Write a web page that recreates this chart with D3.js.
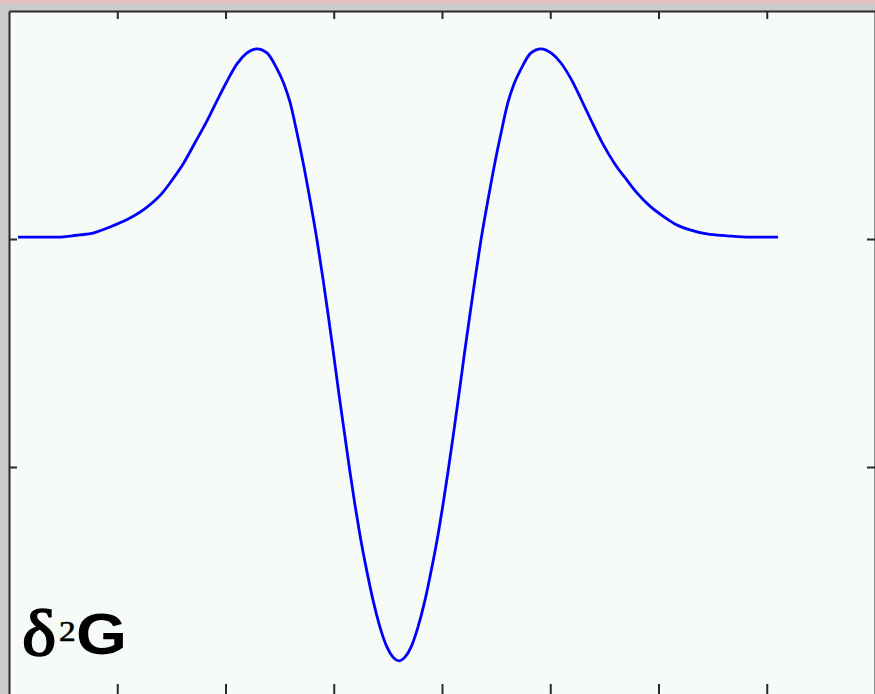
<!DOCTYPE html>
<html>
<head>
<meta charset="utf-8">
<script src="https://cdn.jsdelivr.net/npm/d3@7"></script>
<style>
  html, body { margin: 0; padding: 0; background: #c9ccc8; }
  svg { display: block; }
</style>
</head>
<body>
<svg id="chart" width="875" height="694"></svg>
<script>
// ---- data ----
const xValues = [0.083,0.286,0.471,0.582,0.656,0.776,0.841,0.961,1.118,1.275,1.423,1.515,1.607,1.718,1.829,1.921,2.014,2.106,2.199,2.291,2.383,2.476,2.540,2.596,2.661,2.716,2.781,2.845,2.901,2.947,2.993,3.048,3.104,3.150,3.196,3.242,3.307,3.363,3.427,3.492,3.547,3.603,3.658,3.714,3.778,3.843,3.898,3.963,4.009,4.055,4.102,4.157,4.212,4.259,4.305,4.360,4.425,4.490,4.545,4.610,4.665,4.730,4.822,4.915,5.007,5.099,5.192,5.284,5.376,5.487,5.598,5.709,5.801,5.921,6.042,6.152,6.291,6.448,6.633,6.845,7.104];
const yValues = [0.004,0.004,0.004,0.007,0.009,0.013,0.018,0.029,0.046,0.070,0.103,0.132,0.164,0.211,0.259,0.303,0.346,0.384,0.408,0.417,0.408,0.373,0.340,0.300,0.232,0.169,0.086,-0.002,-0.088,-0.164,-0.243,-0.340,-0.434,-0.511,-0.583,-0.649,-0.730,-0.792,-0.851,-0.895,-0.917,-0.925,-0.917,-0.895,-0.851,-0.792,-0.730,-0.649,-0.583,-0.511,-0.434,-0.340,-0.243,-0.164,-0.088,-0.002,0.086,0.169,0.232,0.300,0.340,0.373,0.408,0.417,0.408,0.386,0.351,0.307,0.261,0.208,0.164,0.129,0.101,0.072,0.050,0.033,0.020,0.011,0.007,0.004,0.004];
const xTicks = [1,2,3,4,5,6,7];
const yTicks = [0,-0.5];
const labelParts = ["δ","2","G"];

// ---- layout ----
const svg = d3.select("#chart");
const W = 875, H = 694;
const mLeft = 9, mRight = 875, mTop = 11, mBottom = 695;

const x = d3.scaleLinear().domain([0, 8]).range([mLeft, mRight]);
const y = d3.scaleLinear().domain([-1, 0.5]).range([mBottom, mTop]);

// frame background
svg.append("rect").attr("x",0).attr("y",0).attr("width",W).attr("height",H).attr("fill","#c9ccc8");
svg.append("rect").attr("x",0).attr("y",0).attr("width",W).attr("height",4).attr("fill","#e6c1c3");
svg.append("rect").attr("x",mLeft).attr("y",mTop).attr("width",mRight-mLeft).attr("height",mBottom-mTop).attr("fill","#f6fbf8");

// curve
const pts = xValues.map((v,i)=>[v, yValues[i]]);
const line = d3.line().x(d=>x(d[0])).y(d=>y(d[1])).curve(d3.curveMonotoneX);
svg.append("path").datum(pts).attr("d", line)
  .attr("fill","none").attr("stroke","#0000ff").attr("stroke-width",2.8)
  .attr("stroke-linejoin","round");

// axes (ticks inward, no labels)
function styleAxis(g){
  g.selectAll("text").remove();
  g.selectAll("line").attr("stroke","#2a2a2a").attr("stroke-width",2);
  g.select(".domain").attr("stroke","#2a2a2a").attr("stroke-width",2);
}
svg.append("g").attr("transform",`translate(0,${mTop})`)
  .call(d3.axisBottom(x).tickValues(xTicks).tickSize(8).tickSizeOuter(0)).call(styleAxis);
svg.append("g").attr("transform",`translate(0,${mBottom})`)
  .call(d3.axisTop(x).tickValues(xTicks).tickSize(11).tickSizeOuter(0)).call(styleAxis);
svg.append("g").attr("transform",`translate(${mLeft},0)`)
  .call(d3.axisRight(y).tickValues(yTicks).tickSize(8).tickSizeOuter(0)).call(styleAxis);
svg.append("g").attr("transform",`translate(${mRight},0)`)
  .call(d3.axisLeft(y).tickValues(yTicks).tickSize(8).tickSizeOuter(0)).call(styleAxis);

// label  δ²G
svg.append("text").attr("transform","translate(22,655) scale(1.12,1)")
  .attr("fill","#000").attr("stroke","#000").attr("stroke-width",1.6)
  .style("font-family","'Liberation Serif', 'DejaVu Serif', serif")
  .style("font-size","65px")
  .text(labelParts[0]);
svg.append("text").attr("transform","translate(59,641) scale(1.15,1)")
  .attr("fill","#000").attr("stroke","#000").attr("stroke-width",0.6)
  .style("font-family","'Liberation Serif', 'DejaVu Serif', serif")
  .style("font-size","29px")
  .text(labelParts[1]);
svg.append("text").attr("transform","translate(76,654) scale(1.15,1)")
  .attr("fill","#000")
  .style("font-family","'Liberation Sans', Arial, sans-serif")
  .style("font-weight","bold").style("font-size","57px")
  .text(labelParts[2]);
</script>
</body>
</html>
